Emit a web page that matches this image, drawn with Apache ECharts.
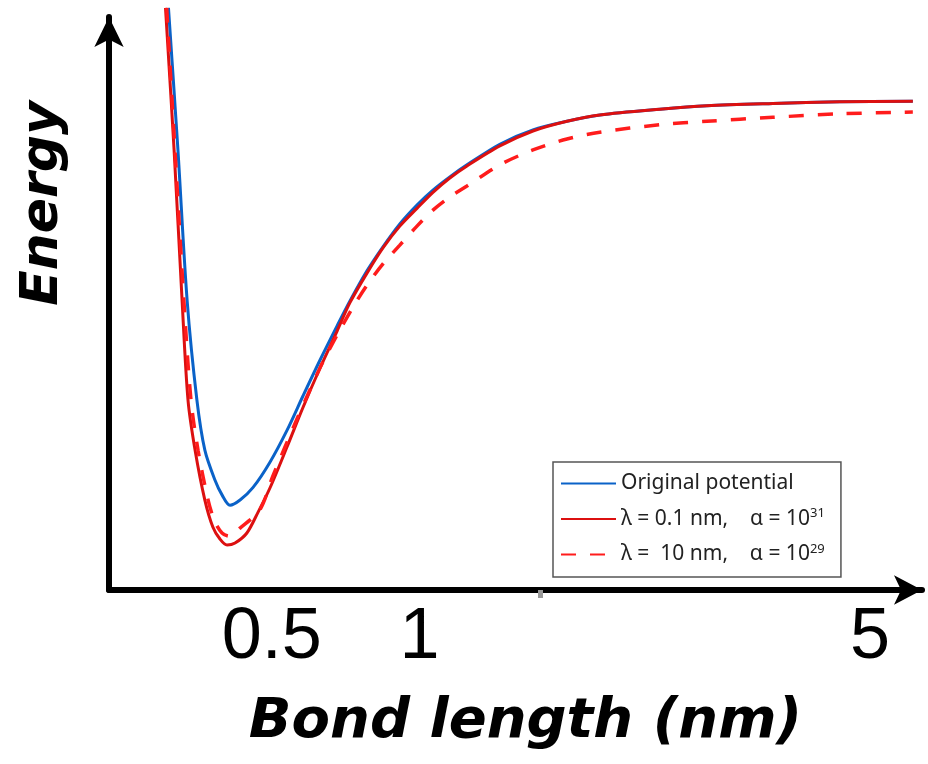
<!DOCTYPE html>
<html><head><meta charset="utf-8">
<script src="https://cdn.jsdelivr.net/npm/echarts@6/dist/echarts.min.js"></script>
<style>html,body{margin:0;padding:0;background:#fff}#c{width:928px;height:764px}</style>
</head><body><div id="c"></div>
<script>
// Schematic (non-uniform) bond-length axis: display positions of the tick labels
const tickPos = [0.5, 1, 2.522];
const tickLabels = ['0.5', '1', '5'];
const grayTickPos = [1.407];

const seriesNames = ['Original potential', 'λ = 0.1 nm, α = 10^31', 'λ = 10 nm, α = 10^29'];
const legendMain = ['Original potential', 'λ = 0.1 nm,    α = 10', 'λ =  10 nm,    α = 10'];
const legendSup = ['', '31', '29'];

// Original potential
const origX = [0.151,0.183,0.214,0.247,0.274,0.308,0.332,0.359,0.393,0.437,0.494,0.552,0.606,0.663,0.721,0.764,0.822,0.876,0.933,0.991,1.045,1.102,1.160,1.271,1.383,1.498,1.609,1.812,1.971,2.194,2.420,2.667];
const origE = [101.6,76.8,50.6,33.2,24.4,19.2,16.6,14.8,15.7,17.9,22.3,27.9,33.9,40.1,46.1,50.4,55.7,59.9,63.9,67.2,69.8,72.1,74.2,77.8,80.3,81.8,82.9,83.9,84.5,84.9,85.2,85.3];
// lambda = 0.1 nm, alpha = 1e31
const redX = [0.141,0.170,0.197,0.217,0.241,0.274,0.301,0.325,0.349,0.376,0.416,0.454,0.494,0.552,0.606,0.663,0.721,0.764,0.822,0.876,0.933,0.991,1.045,1.102,1.160,1.271,1.383,1.498,1.609,1.812,1.971,2.194,2.420,2.667];
const redE = [101.6,76.8,50.6,33.2,24.4,15.7,11.0,8.9,7.85,8.2,9.95,13.6,17.8,25.0,31.9,38.7,45.2,50.1,55.3,59.7,63.5,66.6,69.4,71.9,74.0,77.5,80.1,81.8,82.9,83.9,84.5,84.9,85.2,85.3];
// lambda = 10 nm, alpha = 1e29
const dashX = [0.145,0.173,0.203,0.227,0.251,0.285,0.308,0.332,0.356,0.393,0.460,0.504,0.585,0.629,0.673,0.721,0.775,0.822,0.876,0.933,0.991,1.045,1.102,1.160,1.271,1.383,1.498,1.609,1.812,1.971,2.194,2.420,2.667];
const dashE = [101.6,76.8,50.6,33.2,24.4,15.7,11.9,9.95,9.4,10.8,14.0,19.9,29.8,34.9,39.8,44.5,49.4,53.2,56.9,60.2,63.5,66.3,68.6,70.5,74.2,76.8,78.7,79.9,81.2,81.8,82.5,83.1,83.4];

const zip = (xs, ys) => xs.map((x, i) => [x, ys[i]]);

const chart = echarts.init(document.getElementById('c'));
const titleFont = {fontFamily: 'DejaVu Sans', fontWeight: 'bold', fontStyle: 'italic', color: '#000'};

chart.setOption({
  backgroundColor: '#fff',
  animation: false,
  grid: {left: 109, right: 6, top: 17, bottom: 174},
  xAxis: {
    type: 'value', min: -0.05, max: 2.698,
    name: 'Bond length (nm)', nameLocation: 'middle', nameGap: 104,
    nameTextStyle: Object.assign({fontSize: 56, padding: [0, 0, 0, 20]}, titleFont),
    axisLine: {show: true, onZero: false, lineStyle: {color: '#000', width: 6}, symbol: ['none', 'arrow'], symbolSize: [22, 28]},
    axisTick: {show: true, customValues: grayTickPos, length: 8, lineStyle: {color: '#999', width: 5}},
    splitLine: {show: false},
    axisLabel: {
      customValues: tickPos, margin: 12,
      fontFamily: 'Liberation Sans', fontSize: 72, color: '#000',
      formatter: v => { const i = tickPos.findIndex(p => Math.abs(p - v) < 1e-6); return i >= 0 ? tickLabels[i] : ''; }
    }
  },
  yAxis: {
    type: 'value', min: 0, max: 100,
    name: 'Energy', nameLocation: 'middle', nameRotate: 90, nameGap: 40,
    nameTextStyle: Object.assign({fontSize: 52, padding: [0, 0, 0, 200]}, titleFont),
    axisLine: {show: true, onZero: false, lineStyle: {color: '#000', width: 6}, symbol: ['none', 'arrow'], symbolSize: [22, 30]},
    axisTick: {show: false}, axisLabel: {show: false}, splitLine: {show: false}
  },
  legend: {
    orient: 'vertical', left: 553, top: 462,
    backgroundColor: '#fff', borderColor: '#555', borderWidth: 1.5,
    padding: [11, 16, 12, 7], itemGap: 13, itemWidth: 55, itemHeight: 14,
    itemStyle: {opacity: 0},
    data: seriesNames,
    formatter: name => { const i = seriesNames.indexOf(name); return '{m|' + legendMain[i] + '}' + (legendSup[i] ? '{s|' + legendSup[i] + '}' : ''); },
    textStyle: {
      fontFamily: 'Noto Sans', fontSize: 21, color: '#222',
      rich: {
        m: {fontFamily: 'Noto Sans', fontSize: 21, lineHeight: 24, color: '#222'},
        s: {fontFamily: 'Noto Sans', fontSize: 13, lineHeight: 12, verticalAlign: 'top', color: '#222'}
      }
    }
  },
  series: [
    {name: seriesNames[0], type: 'line', data: zip(origX, origE), symbol: 'none', smooth: 0.3, clip: false,
     lineStyle: {color: '#0a62c8', width: 3}, itemStyle: {color: '#0a62c8'}},
    {name: seriesNames[1], type: 'line', data: zip(redX, redE), symbol: 'none', smooth: 0.3, clip: false,
     lineStyle: {color: '#dc1010', width: 3}, itemStyle: {color: '#dc1010'}},
    {name: seriesNames[2], type: 'line', data: zip(dashX, dashE), symbol: 'none', smooth: 0.3, clip: false,
     lineStyle: {color: '#ff1c1c', width: 3.5, type: [15, 14]}, itemStyle: {color: '#ff1c1c'}}
  ]
});
</script></body></html>
